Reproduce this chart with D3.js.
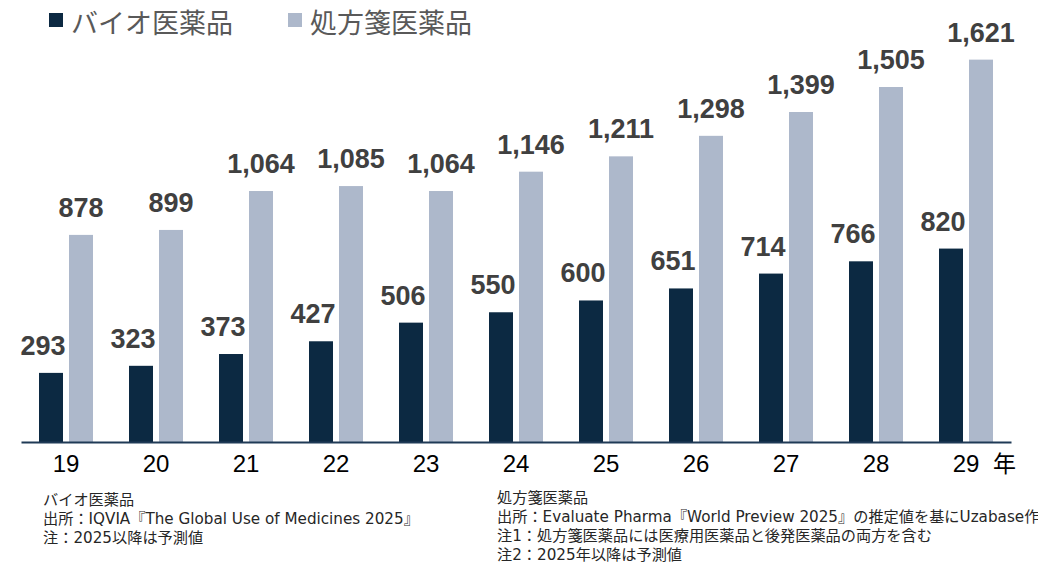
<!DOCTYPE html>
<head>
  <meta charset="utf-8">
  <style>
  body { margin: 0; background: #fff; overflow: hidden; }
  </style>
</head>
<body>
  <svg id="chart"></svg>

  <script src="https://d3js.org/d3.v7.min.js"></script>
  <script>

  var width = 1038,
      height = 564;

  // data
  var years = ['19', '20', '21', '22', '23', '24', '25', '26', '27', '28', '29'];
  var bio = [293, 323, 373, 427, 506, 550, 600, 651, 714, 766, 820];
  var rx = [878, 899, 1064, 1085, 1064, 1146, 1211, 1298, 1399, 1505, 1621];
  var seriesNames = ['バイオ医薬品', '処方箋医薬品'];
  var seriesColors = ['#0c2942', '#adb8cb'];
  var notesBio = ['バイオ医薬品', '出所：IQVIA『The Global Use of Medicines 2025』', '注：2025以降は予測値'];
  var notesRx = ['処方箋医薬品', '出所：Evaluate Pharma『World Preview 2025』の推定値を基にUzabase作成',
                 '注1：処方箋医薬品には医療用医薬品と後発医薬品の両方を含む', '注2：2025年以降は予測値'];

  var latin = "'Liberation Sans', Arial, sans-serif";
  var cjk = "'Noto Sans CJK JP', sans-serif";
  var noteFont = "'DejaVu Sans', 'Noto Sans CJK JP', sans-serif";

  var svg = d3.select('#chart')
    .attr('width', width)
    .attr('height', height);

  var x0 = d3.scaleBand()
    .domain(years)
    .range([21, 1011]);

  var x1 = d3.scaleBand()
    .domain([0, 1])
    .range([18, 72])
    .paddingInner(0.2);

  var y = d3.scaleLinear()
    .domain([0, 1700])
    .range([442, 41]);

  var fmt = d3.format(',');

  var rows = years.map(function(yr, i) {
    return { year: yr, values: [bio[i], rx[i]] };
  });

  var groups = svg.selectAll('.group')
    .data(rows)
    .enter().append('g')
      .attr('class', 'group')
      .attr('transform', function(d) { return 'translate(' + x0(d.year) + ',0)'; });

  groups.selectAll('rect')
    .data(function(d) { return d.values.map(function(v, k) { return { k: k, v: v }; }); })
    .enter().append('rect')
      .attr('x', function(d) { return x1(d.k); })
      .attr('y', function(d) { return y(d.v); })
      .attr('width', x1.bandwidth())
      .attr('height', function(d) { return y(0) - y(d.v); })
      .attr('fill', function(d) { return seriesColors[d.k]; });

  // value labels (dark ones nudged left so they clear the light bar)
  groups.selectAll('.val')
    .data(function(d) { return d.values.map(function(v, k) { return { k: k, v: v }; }); })
    .enter().append('text')
      .attr('class', 'val')
      .attr('text-anchor', 'middle')
      .attr('x', function(d) { return x1(d.k) + x1.bandwidth() / 2 - (d.k === 0 ? 8 : 0); })
      .attr('y', function(d) { return y(d.v) - 18; })
      .style('font-family', latin)
      .style('font-size', '27px')
      .style('font-weight', 700)
      .style('fill', '#404040')
      .text(function(d) { return fmt(d.v); });

  // axis
  var axis = svg.append('g')
    .attr('transform', 'translate(0,' + y(0) + ')')
    .call(d3.axisBottom(x0).tickSize(0).tickPadding(0));
  axis.select('.domain')
    .attr('stroke', '#1f3a56')
    .attr('stroke-width', 2);
  axis.selectAll('.tick text')
    .attr('y', 30)
    .attr('dy', null)
    .style('font-family', latin)
    .style('font-size', '24px')
    .style('fill', '#000');

  svg.append('text')
    .attr('x', 993)
    .attr('y', 472)
    .style('font-family', cjk)
    .style('font-size', '23px')
    .style('fill', '#000')
    .text('年');

  // legend
  var legendX = [49, 288];
  seriesNames.forEach(function(name, k) {
    svg.append('rect')
      .attr('x', legendX[k])
      .attr('y', 13)
      .attr('width', 14)
      .attr('height', 14)
      .attr('fill', seriesColors[k]);
    svg.append('text')
      .attr('x', legendX[k] + 22)
      .attr('y', 21)
      .attr('dominant-baseline', 'central')
      .style('font-family', cjk)
      .style('font-size', '27px')
      .style('fill', '#595959')
      .text(name);
  });

  // source notes
  function notes(lines, x, y0, step) {
    svg.selectAll(null)
      .data(lines)
      .enter().append('text')
        .attr('x', x)
        .attr('y', function(d, i) { return y0 + i * step; })
        .attr('dominant-baseline', 'central')
        .style('font-family', noteFont)
        .style('font-size', '15.2px')
        .style('fill', '#262626')
        .text(function(d) { return d; });
  }
  notes(notesBio, 43, 500, 19);
  notes(notesRx, 497, 498, 19);

  </script>
</body>
